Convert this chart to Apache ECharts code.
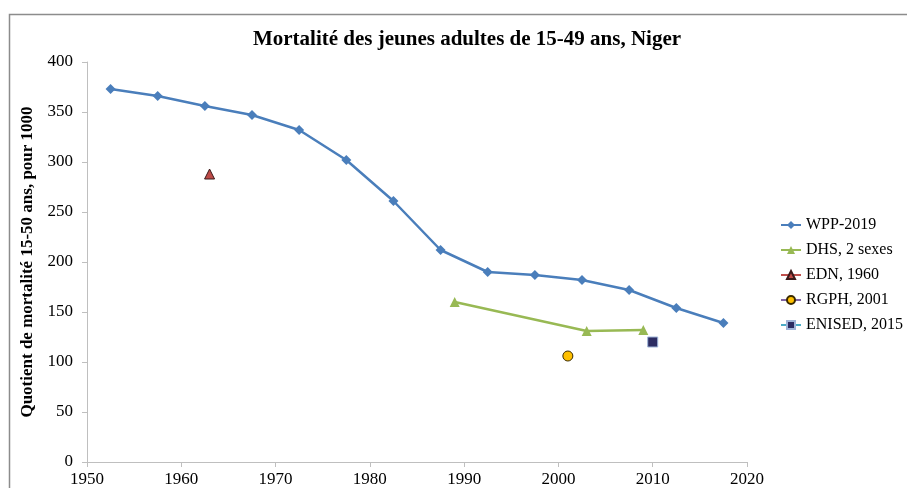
<!DOCTYPE html>
<html>
<head>
<meta charset="utf-8">
<script src="https://cdn.jsdelivr.net/npm/echarts@6/dist/echarts.min.js"></script>
<style>
  html, body { margin: 0; padding: 0; background: #fff; }
  #chart { width: 907px; height: 488px; }
</style>
</head>
<body>
<div id="chart"></div>
<script>
// données
var wppYears = [1952.5, 1957.5, 1962.5, 1967.5, 1972.5, 1977.5, 1982.5, 1987.5, 1992.5, 1997.5, 2002.5, 2007.5, 2012.5, 2017.5];
var wppValues = [373, 366, 356, 347, 332, 302, 261, 212, 190, 187, 182, 172, 154, 139];
var dhsYears = [1989, 2003, 2009];
var dhsValues = [160, 131, 132];
var ednYears = [1963];
var ednValues = [288];
var rgphYears = [2001];
var rgphValues = [106];
var enisedYears = [2010];
var enisedValues = [120];

var fontSerif = '"Liberation Serif", "DejaVu Serif", serif';

function pairs(xs, ys) {
    var out = [];
    for (var i = 0; i < xs.length; i++) {
        out.push([xs[i], ys[i]]);
    }
    return out;
}

var myChart = echarts.init(document.getElementById('chart'));

var option = {
    backgroundColor: '#fff',
    animation: false,
    title: {
        text: 'Mortalité des jeunes adultes de 15-49 ans, Niger',
        left: 462,
        textAlign: 'center',
        top: 24,
        textStyle: {
            fontFamily: fontSerif,
            fontWeight: 'bold',
            fontSize: 21,
            color: '#000'
        }
    },
    graphic: [{
        type: 'rect',
        shape: { x: 9.5, y: 14.5, width: 1000, height: 1000 },
        style: { fill: 'none', stroke: '#8c8c8c', lineWidth: 1.5 },
        silent: true
    }],
    legend: {
        orient: 'vertical',
        left: 775,
        top: 212,
        itemWidth: 20,
        itemHeight: 10,
        itemGap: 9,
        textStyle: {
            fontFamily: fontSerif,
            fontSize: 16,
            color: '#000'
        },
        data: ['WPP-2019', 'DHS, 2 sexes', 'EDN, 1960', 'RGPH, 2001', 'ENISED, 2015']
    },
    grid: {
        left: 87,
        right: 160,
        top: 62,
        bottom: 26
    },
    xAxis: {
        type: 'value',
        min: 1950,
        max: 2020,
        interval: 10,
        axisLine: { lineStyle: { color: '#bfbfbf', width: 1 } },
        axisTick: { show: true, length: 5, lineStyle: { color: '#bfbfbf' } },
        splitLine: { show: false },
        axisLabel: {
            margin: 9,
            fontFamily: fontSerif,
            fontSize: 17,
            color: '#000',
            formatter: function (v) { return String(v); }
        }
    },
    yAxis: {
        type: 'value',
        min: 0,
        max: 400,
        interval: 50,
        name: 'Quotient de mortalité 15-50 ans, pour 1000',
        nameLocation: 'middle',
        nameGap: 44,
        nameTextStyle: {
            fontFamily: fontSerif,
            fontWeight: 'bold',
            fontSize: 17,
            color: '#000'
        },
        axisLine: { show: true, lineStyle: { color: '#bfbfbf', width: 1 } },
        axisTick: { show: true, length: 5, lineStyle: { color: '#bfbfbf' } },
        splitLine: { show: false },
        axisLabel: {
            margin: 14,
            fontFamily: fontSerif,
            fontSize: 17,
            color: '#000'
        }
    },
    series: [{
        name: 'WPP-2019',
        type: 'line',
        data: pairs(wppYears, wppValues),
        symbol: 'diamond',
        symbolSize: 10,
        lineStyle: { color: '#4a7ebb', width: 2.5 },
        itemStyle: { color: '#4a7ebb' }
    }, {
        name: 'DHS, 2 sexes',
        type: 'line',
        data: pairs(dhsYears, dhsValues),
        symbol: 'triangle',
        symbolSize: 10,
        lineStyle: { color: '#98b954', width: 2.5 },
        itemStyle: { color: '#98b954' }
    }, {
        name: 'EDN, 1960',
        type: 'line',
        data: pairs(ednYears, ednValues),
        symbol: 'triangle',
        symbolSize: 10,
        lineStyle: { color: '#c0504d', width: 2.5 },
        itemStyle: { color: '#be4b48', borderColor: '#3a1a1a', borderWidth: 1 }
    }, {
        name: 'RGPH, 2001',
        type: 'line',
        data: pairs(rgphYears, rgphValues),
        symbol: 'circle',
        symbolSize: 10,
        lineStyle: { color: '#8064a2', width: 2.5 },
        itemStyle: { color: '#ffc000', borderColor: '#3a2a00', borderWidth: 1 }
    }, {
        name: 'ENISED, 2015',
        type: 'line',
        data: pairs(enisedYears, enisedValues),
        symbol: 'rect',
        symbolSize: 10,
        lineStyle: { color: '#4bacc6', width: 2.5 },
        itemStyle: { color: '#2c2c62', borderColor: '#9fb4d8', borderWidth: 1 }
    }]
};

myChart.setOption(option);
</script>
</body>
</html>
